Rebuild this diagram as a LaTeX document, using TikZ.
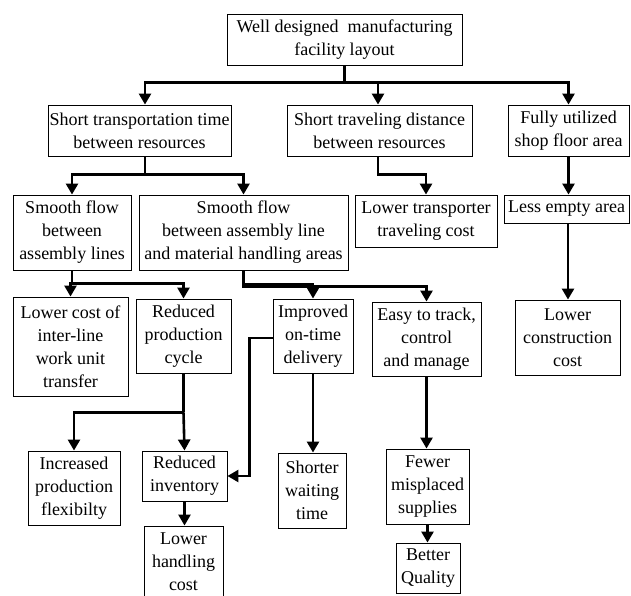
\documentclass[tikz,border=0pt]{standalone}
\usepackage{fontspec}
\setmainfont{Liberation Serif}
\usepackage{tikz}
\usetikzlibrary{arrows.meta,positioning,calc}

\begin{document}
\begin{tikzpicture}[x=1pt,y=-1pt,
  font=\fontsize{18}{23}\selectfont,
  box/.style={draw,line width=0.9pt,align=center,inner sep=0pt},
  arr/.style={line width=2.6pt,-{Triangle[length=11pt,width=12pt]}},
  lnk/.style={line width=2.6pt}]
\useasboundingbox (0,0) rectangle (631,596);
% level 0
\node[box,minimum width=235,minimum height=51] (top) at (344.5,39.5) {Well designed\ \ manufacturing\\facility layout};
% level 1
\node[box,minimum width=183,minimum height=51] (b1) at (139.5,130.5) {Short transportation time\\between resources};
\node[box,minimum width=185,minimum height=51] (b2) at (379.5,130.5) {Short traveling distance\\between resources};
\node[box,minimum width=121,minimum height=51] (b3) at (568.5,130.5) {Fully utilized\\shop floor area};
% level 2
\node[box,minimum width=118,minimum height=75] (c1) at (72,232.5) {Smooth flow\\between\\assembly lines};
\node[box,minimum width=209,minimum height=75] (c2) at (243.5,232.5) {Smooth flow\\between assembly line\\and material handling areas};
\node[box,minimum width=142,minimum height=52] (c3) at (426,221) {Lower transporter\\traveling cost};
\node[box,minimum width=125,minimum height=28] (c4) at (566.5,209) {Less empty area};
% level 3
\node[box,minimum width=115,minimum height=99] (d1) at (70.5,346.5) {Lower cost of\\inter-line\\work unit\\transfer};
\node[box,minimum width=95,minimum height=74] (d2) at (183.5,336) {Reduced\\production\\cycle};
\node[box,minimum width=80,minimum height=74] (d3) at (313,336) {Improved\\on-time\\delivery};
\node[box,minimum width=109,minimum height=74] (d4) at (426.5,339) {Easy to track,\\control\\and manage};
\node[box,minimum width=105,minimum height=75] (d5) at (567.5,337.5) {Lower\\construction\\cost};
% level 4
\node[box,minimum width=92,minimum height=74] (e1) at (74,488) {Increased\\production\\flexibilty};
\node[box,minimum width=85,minimum height=50] (e2) at (184.5,476) {Reduced\\inventory};
\node[box,minimum width=68,minimum height=75] (e3) at (312,490.5) {Shorter\\waiting\\time};
\node[box,minimum width=83,minimum height=75] (e4) at (427.5,486.5) {Fewer\\misplaced\\supplies};
% level 5
\node[box,minimum width=79,minimum height=71] (f1) at (183.5,561.5) {Lower\\handling\\cost};
\node[box,minimum width=64,minimum height=50] (f2) at (428,568) {Better\\Quality};

% connectors
\draw[lnk] (top.south) -- ++(0,17) coordinate (j0);
\draw[arr] (j0) -| ([xshift=5.5]b1.north);
\draw[arr] (j0) -| ([xshift=-1.5]b2.north);
\draw[arr] (j0) -| (b3.north);
\draw[lnk] ([xshift=5.5]b1.south) -- ++(0,18) coordinate (j1);
\draw[arr] (j1) -| (c1.north);
\draw[arr] (j1) -| (c2.north);
\draw[arr] ([xshift=-1.5]b2.south) |- ($(j1)+(233,0)$) -| (c3.north);
\draw[arr] (b3.south) -- (b3.south |- c4.north);
\draw[lnk] (c1.south) -- ++(0,13) coordinate (j2);
\draw[arr] (j2) -| (d1.north);
\draw[arr] (j2) -| (d2.north);
\draw[arr] (c2.south) -- ++(0,14) -| (d3.north);
\draw[arr] (c2.south) -- ++(0,16) -| (d4.north);
\draw[arr] ([xshift=1.5]c4.south) -- ([xshift=1.5]c4.south |- d5.north);
\draw[lnk] (d2.south) -- ++(0,39) coordinate (j3);
\draw[arr] (j3) -| (e1.north);
\draw[arr] (j3) -- (e2.north);
\draw[arr] ([yshift=-2]d3.west) -- ++(-23,0) |- (e2.east);
\draw[arr] (d3.south) -- (d3.south |- e3.north);
\draw[arr] (d4.south) -- (d4.south |- e4.north);
\draw[arr] (e2.south) -- (e2.south |- f1.north);
\draw[arr] (e4.south) -- (e4.south |- f2.north);
\end{tikzpicture}
\end{document}
